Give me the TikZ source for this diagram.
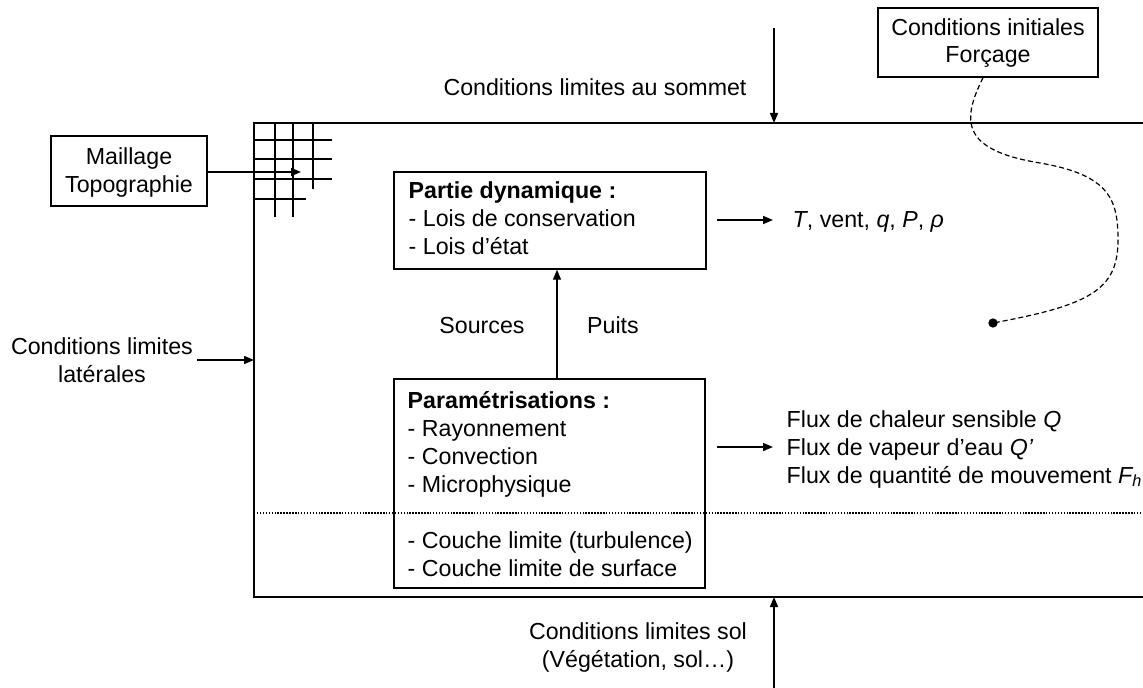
\documentclass[tikz,border=0pt]{standalone}
\usepackage{fontspec}
\setmainfont{Liberation Sans}
\usetikzlibrary{arrows.meta}
\begin{document}
\begin{tikzpicture}[x=0.75pt,y=-0.75pt,line width=1.1pt,
  lbl/.style={inner sep=0pt,font=\fontsize{17.4}{21}\selectfont},
  box/.style={draw,inner sep=0pt,rectangle},
  arr/.style={-{Triangle[length=7.5pt,width=6pt]}},
  grid/.style={line width=1.1pt},
  dashline/.style={dash pattern=on 3.75pt off 2.25pt,line width=0.9pt},
  dotline/.style={dash pattern=on 1.1pt off 1.1pt,line width=1.3pt}]
\useasboundingbox (0,0) rectangle (1143,688);
% frame
\coordinate (ftr) at (1143,123);
\coordinate (ftl) at (254,123);
\coordinate (fbl) at (254,597);
\coordinate (fbr) at (1143,597);
\draw (ftr) -- (ftl) -- (fbl) -- (fbr);
% grid
\draw[grid] (275,123) -- (275,217) (293,123) -- (293,217) (313,123) -- (313,189);
\draw[grid] (254,140) -- (332,140) (254,159) -- (332,159) (254,179) -- (332,179) (254,199) -- (306,199);
% dotted separation
\draw[dotline] (254,513) -- (1143,513);
% boxes
\node[box,minimum width=117pt,minimum height=52.5pt] (maill) at (129,171) {};
\node[lbl,anchor=base] (maill1) at (129,165) {Maillage};
\node[lbl,anchor=base] (maill2) at (129,193) {Topographie};
\node[box,minimum width=165pt,minimum height=51.75pt] (ci) at (988,42.5) {};
\node[lbl,anchor=base] (ci1) at (988,36) {Conditions initiales};
\node[lbl,anchor=base] (ci2) at (988,63) {Forçage};
\node[box,minimum width=234pt,minimum height=72.75pt] (dyn) at (550,220.5) {};
\node[lbl,anchor=base west] (dyn1) at (408,199) {\bfseries Partie dynamique :};
\node[lbl,anchor=base west] (dyn2) at (408,227) {- Lois de conservation};
\node[lbl,anchor=base west] (dyn3) at (408,255) {- Lois d’état};
\node[box,minimum width=233.25pt,minimum height=156.75pt] (par) at (549.5,483.5) {};
\node[lbl,anchor=base west] (par1) at (407,408) {\bfseries Paramétrisations :};
\node[lbl,anchor=base west] (par2) at (407,436) {- Rayonnement};
\node[lbl,anchor=base west] (par3) at (407,464) {- Convection};
\node[lbl,anchor=base west] (par4) at (407,492) {- Microphysique};
\node[lbl,anchor=base west] (par5) at (407,548) {- Couche limite (turbulence)};
\node[lbl,anchor=base west] (par6) at (407,576) {- Couche limite de surface};
% labels
\node[lbl,anchor=base] (lat1) at (102,354) {Conditions limites};
\node[lbl,anchor=base] (lat2) at (102,382) {latérales};
\node[lbl,anchor=base] (som) at (595,96) {Conditions limites au sommet};
\node[lbl,anchor=base] (sol1) at (638,639) {Conditions limites sol};
\node[lbl,anchor=base] (sol2) at (638,667) {(Végétation, sol…)};
\node[lbl,anchor=base] (src) at (482,333) {Sources};
\node[lbl,anchor=base] (pts) at (613,333) {Puits};
\node[lbl,anchor=base west] (out) at (792,228) {\textit{T}, vent, \textit{q}, \textit{P}, \textit{ρ}};
\node[lbl,anchor=base west] (flx1) at (786,427) {Flux de chaleur sensible \textit{Q}};
\node[lbl,anchor=base west] (flx2) at (786,455) {Flux de vapeur d’eau \textit{Q’}};
\node[lbl,anchor=base west] (flx3) at (786,483) {Flux de quantité de mouvement \textit{F\textsubscript{h}}};
% connectors
\coordinate (mtip) at (301,172);
\draw[arr] (maill.east |- mtip) -- (mtip);
\coordinate (lstart) at (197,360);
\draw[arr] (lstart) -- (lstart -| fbl);
\coordinate (stop) at (774,28);
\draw[arr] (stop) -- (stop |- ftl);
\coordinate (sbot) at (774,688);
\draw[arr] (sbot) -- (sbot |- fbl);
\draw[arr] (par.north -| 557,0) -- (dyn.south -| 557,0);
\coordinate (ta) at (717,220);
\coordinate (tb) at (773,220);
\draw[arr] (ta) -- (tb);
\coordinate (fa) at (717,447);
\coordinate (fb) at (773,447);
\draw[arr] (fa) -- (fb);
% forcing curve
\node[circle,fill,inner sep=0pt,minimum size=7pt] (dot) at (993,323) {};
\draw[dashline] (ci.south -| 983,0) .. controls (962,120) and (960,150) .. (1040,163)
  .. controls (1110,175) and (1118,200) .. (1118,240)
  .. controls (1118,290) and (1090,305) .. (dot.center);
\end{tikzpicture}
\end{document}
